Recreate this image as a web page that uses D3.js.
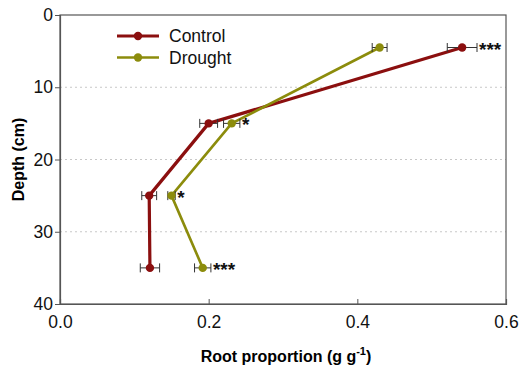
<!DOCTYPE html>
<html>
<head>
<meta charset="utf-8">
<script src="https://cdn.jsdelivr.net/npm/d3@7"></script>
<style>
  body { margin: 0; background: #fff; }
  svg text { font-family: "Liberation Sans", Arial, sans-serif; }
</style>
</head>
<body>
<div id="chart"></div>
<script>
// data
var depths = [4.5, 15, 25, 35];
var controlMean = [0.541, 0.2, 0.12, 0.121];
var controlErr = [0.02, 0.012, 0.01, 0.013];
var droughtMean = [0.43, 0.231, 0.15, 0.192];
var droughtErr = [0.01, 0.011, 0.005, 0.011];
var signif = ["***", "*", "*", "***"];
var xTicks = [0, 0.2, 0.4, 0.6];
var yTicks = [0, 10, 20, 30, 40];
var gridTicks = [10, 20, 30];

var series = [
  {name: "Control", mean: controlMean, err: controlErr, color: "#8b0f0f", width: 3.2},
  {name: "Drought", mean: droughtMean, err: droughtErr, color: "#8c8c0c", width: 2.6}
];

var W = 528, H = 368;
var margin = {top: 15, left: 60, bottom: 64, right: 22},
    width = W - margin.left - margin.right,
    height = H - margin.top - margin.bottom;

var svg = d3.select("#chart").append("svg")
  .attr("width", W).attr("height", H);

var g = svg.append("g")
  .attr("transform", "translate(" + margin.left + "," + margin.top + ")");

var x = d3.scaleLinear().domain([0, 0.6]).range([0, width]);
var y = d3.scaleLinear().domain([0, 40]).range([0, height]);

// dotted gridlines
g.selectAll(".grid").data(gridTicks).enter().append("line")
  .attr("x1", 0).attr("x2", width)
  .attr("y1", d => y(d)).attr("y2", d => y(d))
  .attr("stroke", "#c8c8c8").attr("stroke-width", 1)
  .attr("stroke-dasharray", "2,3");

// frame
g.append("rect")
  .attr("width", width).attr("height", height)
  .attr("fill", "none").attr("stroke", "#555").attr("stroke-width", 1.2);

// axes
var yAxis = g.append("g")
  .call(d3.axisLeft(y).tickValues(yTicks).tickFormat(d3.format("d")).tickSize(5).tickPadding(2));
var xAxis = g.append("g")
  .attr("transform", "translate(0," + height + ")")
  .call(d3.axisBottom(x).tickValues(xTicks).tickFormat(d3.format(".1f")).tickSize(-5).tickPadding(12));

[xAxis, yAxis].forEach(function(a) {
  a.select(".domain").attr("stroke", "#555").attr("stroke-width", 1.2);
  a.selectAll(".tick line").attr("stroke", "#555");
  a.selectAll("text").attr("font-size", 17.5).attr("fill", "#111")
    .style("font-family", "'Liberation Sans', Arial, sans-serif");
});

// axis titles
svg.append("text")
  .attr("transform", "translate(24," + (margin.top + height / 2) + ") rotate(-90)")
  .attr("text-anchor", "middle")
  .attr("font-size", 16).attr("font-weight", "bold")
  .text("Depth (cm)");

var xt = svg.append("text")
  .attr("x", margin.left + width / 2 + 3).attr("y", 362)
  .attr("text-anchor", "middle")
  .attr("font-size", 16).attr("font-weight", "bold");
xt.append("tspan").text("Root proportion (g g");
xt.append("tspan").attr("dy", -7).attr("font-size", 11).text("-1");
xt.append("tspan").attr("dy", 7).text(")");

// lines, error bars, points
var line = d3.line().x(d => x(d.v)).y(d => y(d.d));

series.forEach(function(s) {
  var pts = depths.map((d, i) => ({d: d, v: s.mean[i], e: s.err[i]}));

  g.append("path")
    .datum(pts)
    .attr("d", line)
    .attr("fill", "none")
    .attr("stroke", s.color)
    .attr("stroke-width", s.width)
    .attr("stroke-linejoin", "round");

  var eb = g.append("g").selectAll("g").data(pts).enter().append("g");
  eb.append("line")
    .attr("x1", d => x(d.v - d.e)).attr("x2", d => x(d.v + d.e))
    .attr("y1", d => y(d.d)).attr("y2", d => y(d.d))
    .attr("stroke", "#333").attr("stroke-width", 1);
  eb.append("line")
    .attr("x1", d => x(d.v - d.e)).attr("x2", d => x(d.v - d.e))
    .attr("y1", d => y(d.d) - 4.5).attr("y2", d => y(d.d) + 4.5)
    .attr("stroke", "#333").attr("stroke-width", 1);
  eb.append("line")
    .attr("x1", d => x(d.v + d.e)).attr("x2", d => x(d.v + d.e))
    .attr("y1", d => y(d.d) - 4.5).attr("y2", d => y(d.d) + 4.5)
    .attr("stroke", "#333").attr("stroke-width", 1);

  g.append("g").selectAll("circle").data(pts).enter().append("circle")
    .attr("cx", d => x(d.v)).attr("cy", d => y(d.d))
    .attr("r", 4.2).attr("fill", s.color);
});

// significance stars, placed to the right of the larger error bar
depths.forEach(function(d, i) {
  var right = Math.max(controlMean[i] + controlErr[i], droughtMean[i] + droughtErr[i]);
  g.append("text")
    .attr("x", x(right) + 2).attr("y", y(d) + 8)
    .attr("font-size", 19).attr("font-weight", "bold").attr("fill", "#111")
    .text(signif[i]);
});

// legend
var leg = svg.append("g").attr("transform", "translate(117,36)");
series.forEach(function(s, i) {
  var row = leg.append("g").attr("transform", "translate(0," + (i * 21.5) + ")");
  row.append("line").attr("x1", 0).attr("x2", 42)
    .attr("stroke", s.color).attr("stroke-width", s.width);
  row.append("circle").attr("cx", 21).attr("r", 4.2).attr("fill", s.color);
  row.append("text").attr("x", 52).attr("y", 6)
    .attr("font-size", 17.5).attr("fill", "#111").text(s.name);
});
</script>
</body>
</html>
